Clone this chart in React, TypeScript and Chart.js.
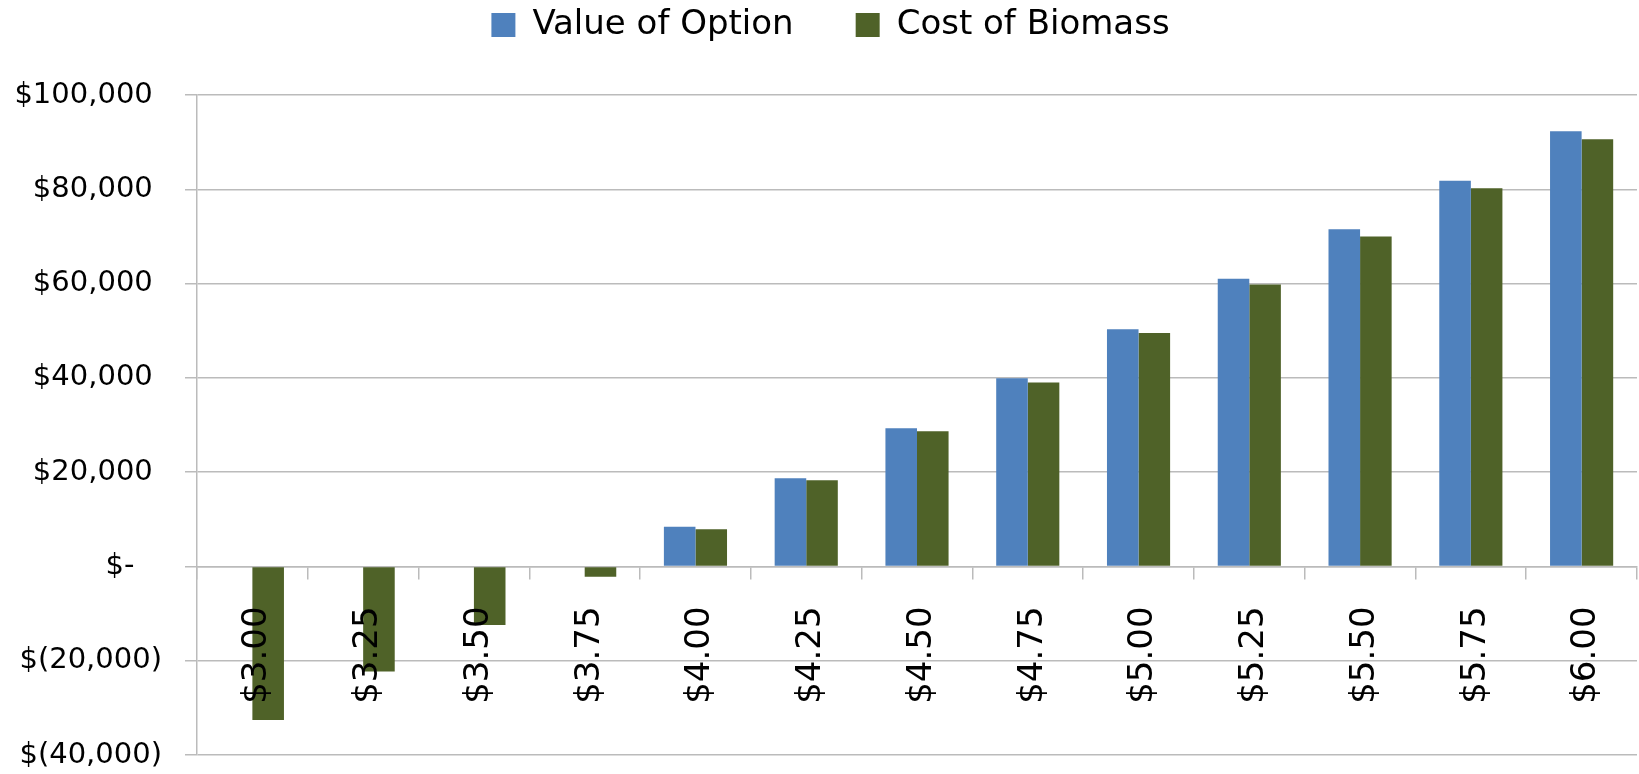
import React, { useEffect, useRef } from 'react';
import { Chart, registerables } from 'chart.js';

Chart.register(...registerables);

const categories = ['$3.00', '$3.25', '$3.50', '$3.75', '$4.00', '$4.25', '$4.50', '$4.75', '$5.00', '$5.25', '$5.50', '$5.75', '$6.00'];
const valueOfOption = [0, 0, 0, 0, 8400, 18700, 29300, 39900, 50300, 61000, 71500, 81800, 92300];
const costOfBiomass = [-32600, -22300, -12400, -2200, 7900, 18300, 28700, 39000, 49500, 59800, 70000, 80200, 90600];
const yTickValues = [-40000, -20000, 0, 20000, 40000, 60000, 80000, 100000];
const seriesNames = ['Value of Option', 'Cost of Biomass'];
const seriesColors = ['#4F81BD', '#4F6228'];

const FONT = 'DejaVu Sans';
const GRID = '#BBBBBB';

function accounting(v: number): string {
  if (v === 0) return '$-   ';
  const s = Math.abs(v).toLocaleString('en-US');
  return v < 0 ? `$(${s})` : `$${s} `;
}

// let the y tick labels use the margin to the left of the axis box
const unclipY = {
  id: 'unclipY',
  afterLayout(c: any) {
    if (c.scales.y) c.scales.y.left = 0;
  },
};

export default function App() {
  const ref = useRef<HTMLCanvasElement>(null);

  useEffect(() => {
    document.body.style.margin = '0';
    const chart = new Chart(ref.current as HTMLCanvasElement, {
      type: 'bar',
      data: {
        labels: categories,
        datasets: [
          {
            label: seriesNames[0],
            data: valueOfOption,
            backgroundColor: seriesColors[0],
            borderWidth: 0,
            categoryPercentage: 0.57,
            barPercentage: 1,
          },
          {
            label: seriesNames[1],
            data: costOfBiomass,
            backgroundColor: seriesColors[1],
            borderWidth: 0,
            categoryPercentage: 0.57,
            barPercentage: 1,
          },
        ],
      },
      plugins: [unclipY],
      options: {
        animation: false,
        responsive: false,
        maintainAspectRatio: false,
        layout: { padding: { left: 24, right: 2, top: 0, bottom: 19 } },
        plugins: {
          legend: {
            position: 'top',
            labels: {
              font: { family: FONT, size: 34 },
              color: '#000',
              boxWidth: 24,
              boxHeight: 24,
              padding: 8,
              generateLabels: (c: any) => {
                const items = Chart.defaults.plugins.legend.labels.generateLabels(c);
                items[0].text = items[0].text + '     ';
                items.forEach((it: any) => { it.lineWidth = 0; });
                return items;
              },
            },
          },
          title: {
            display: true,
            text: '',
            weight: 500,
            padding: { top: 0, bottom: 42 },
            font: { size: 1, lineHeight: 1 },
          } as any,
          tooltip: { enabled: false },
        },
        scales: {
          x: {
            position: { y: 0 } as any,
            afterFit: (s: any) => {
              s.paddingLeft = 0;
              s.paddingRight = 0;
            },
            grid: {
              drawOnChartArea: false,
              drawTicks: true,
              tickLength: 12,
              color: GRID,
              lineWidth: 1.5,
              offset: true,
            },
            border: { display: true, color: GRID, width: 1.5 },
            ticks: {
              z: 1,
              autoSkip: false,
              minRotation: 90,
              maxRotation: 90,
              padding: 28,
              labelOffset: 5,
              font: { family: FONT, size: 34 },
              color: '#000',
            },
          },
          y: {
            min: -40000,
            max: 100000,
            afterFit: (s: any) => {
              s.width = 173;
              s.paddingTop = 0;
              s.paddingBottom = 0;
            },
            afterBuildTicks: (s: any) => { s.ticks = yTickValues.map((v) => ({ value: v })); },
            ticks: {
              padding: 23,
              font: { family: FONT, size: 29 },
              color: '#000',
              callback: (v: any) => accounting(Number(v)),
            },
            grid: { color: GRID, lineWidth: 1.5, tickLength: 12 },
            border: { display: true, color: GRID, width: 1.5 },
          },
        },
      },
    });
    return () => chart.destroy();
  }, []);

  return <canvas ref={ref} width={1639} height={774} style={{ display: 'block' }} />;
}
